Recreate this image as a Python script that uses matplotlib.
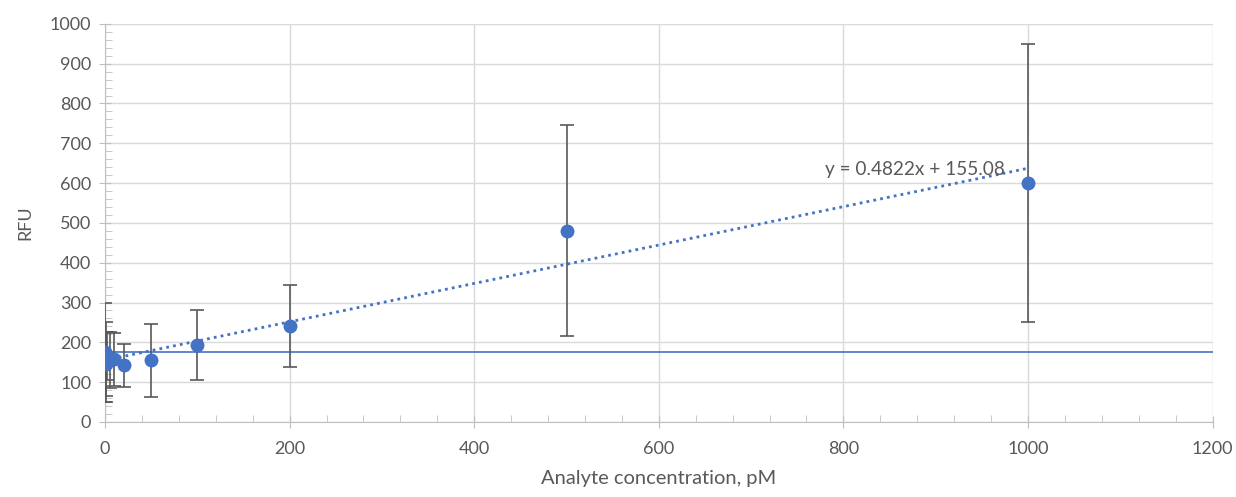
import matplotlib
matplotlib.use("Agg")
import matplotlib.pyplot as plt
import numpy as np
from matplotlib.ticker import MultipleLocator

# data
conc = [0, 0.5, 1, 2.5, 5, 10, 20, 50, 100, 200, 500, 1000]
rfu = [175, 150, 145, 165, 155, 157, 142, 155, 193, 240, 480, 600]
rfu_err = [125, 100, 80, 60, 70, 66, 55, 92, 87, 103, 265, 350]
blank_level = 176
slope, intercept = 0.4822, 155.08
x_ticks = [0, 200, 400, 600, 800, 1000, 1200]
y_ticks = [0, 100, 200, 300, 400, 500, 600, 700, 800, 900, 1000]

BLUE = "#4472C4"
GREY = "#595959"
GRID = "#D9D9D9"

plt.rcParams["font.family"] = ["Lato", "DejaVu Sans"]

fig = plt.figure(figsize=(12.36, 4.97), dpi=100)
ax = fig.add_axes([0.085, 0.151, 0.896, 0.801])

ax.errorbar(conc, rfu, yerr=rfu_err, fmt="none", ecolor=GREY, elinewidth=1.2,
            capsize=5, capthick=1.2, zorder=3)
ax.plot(conc, rfu, "o", color=BLUE, markersize=9, zorder=4)

fit_x = np.array([0, 1000])
ax.plot(fit_x, slope * fit_x + intercept, linestyle=(0, (1, 1.5)), color=BLUE,
        linewidth=2, zorder=2)
ax.axhline(blank_level, color=BLUE, linewidth=1.2, zorder=2)
ax.text(780, 635, "y = 0.4822x + 155.08", fontsize=13.7, color=GREY,
        ha="left", va="center", zorder=5)

ax.set_xlim(0, 1200)
ax.set_ylim(0, 1000)
ax.set_xticks(x_ticks)
ax.set_yticks(y_ticks)
ax.xaxis.set_minor_locator(MultipleLocator(40))
ax.yaxis.set_minor_locator(MultipleLocator(20))
ax.grid(True, which="major", color=GRID, linewidth=1)
ax.set_axisbelow(True)

for side in ("top", "right"):
    ax.spines[side].set_visible(False)
for side in ("left", "bottom"):
    ax.spines[side].set_color("#BFBFBF")

ax.tick_params(axis="both", which="major", direction="inout", length=8,
               color="#BFBFBF", labelsize=13, labelcolor=GREY, pad=6)
ax.tick_params(axis="x", which="major", pad=10)
ax.tick_params(axis="x", which="minor", direction="in", length=5, color="#BFBFBF")
ax.tick_params(axis="y", which="minor", direction="in", length=5, color="#BFBFBF")

ax.set_xlabel("Analyte concentration, pM", fontsize=14.5, color=GREY, labelpad=9)
ax.set_ylabel("RFU", fontsize=13, color=GREY, labelpad=12)

fig.savefig("out.png", dpi=100)
